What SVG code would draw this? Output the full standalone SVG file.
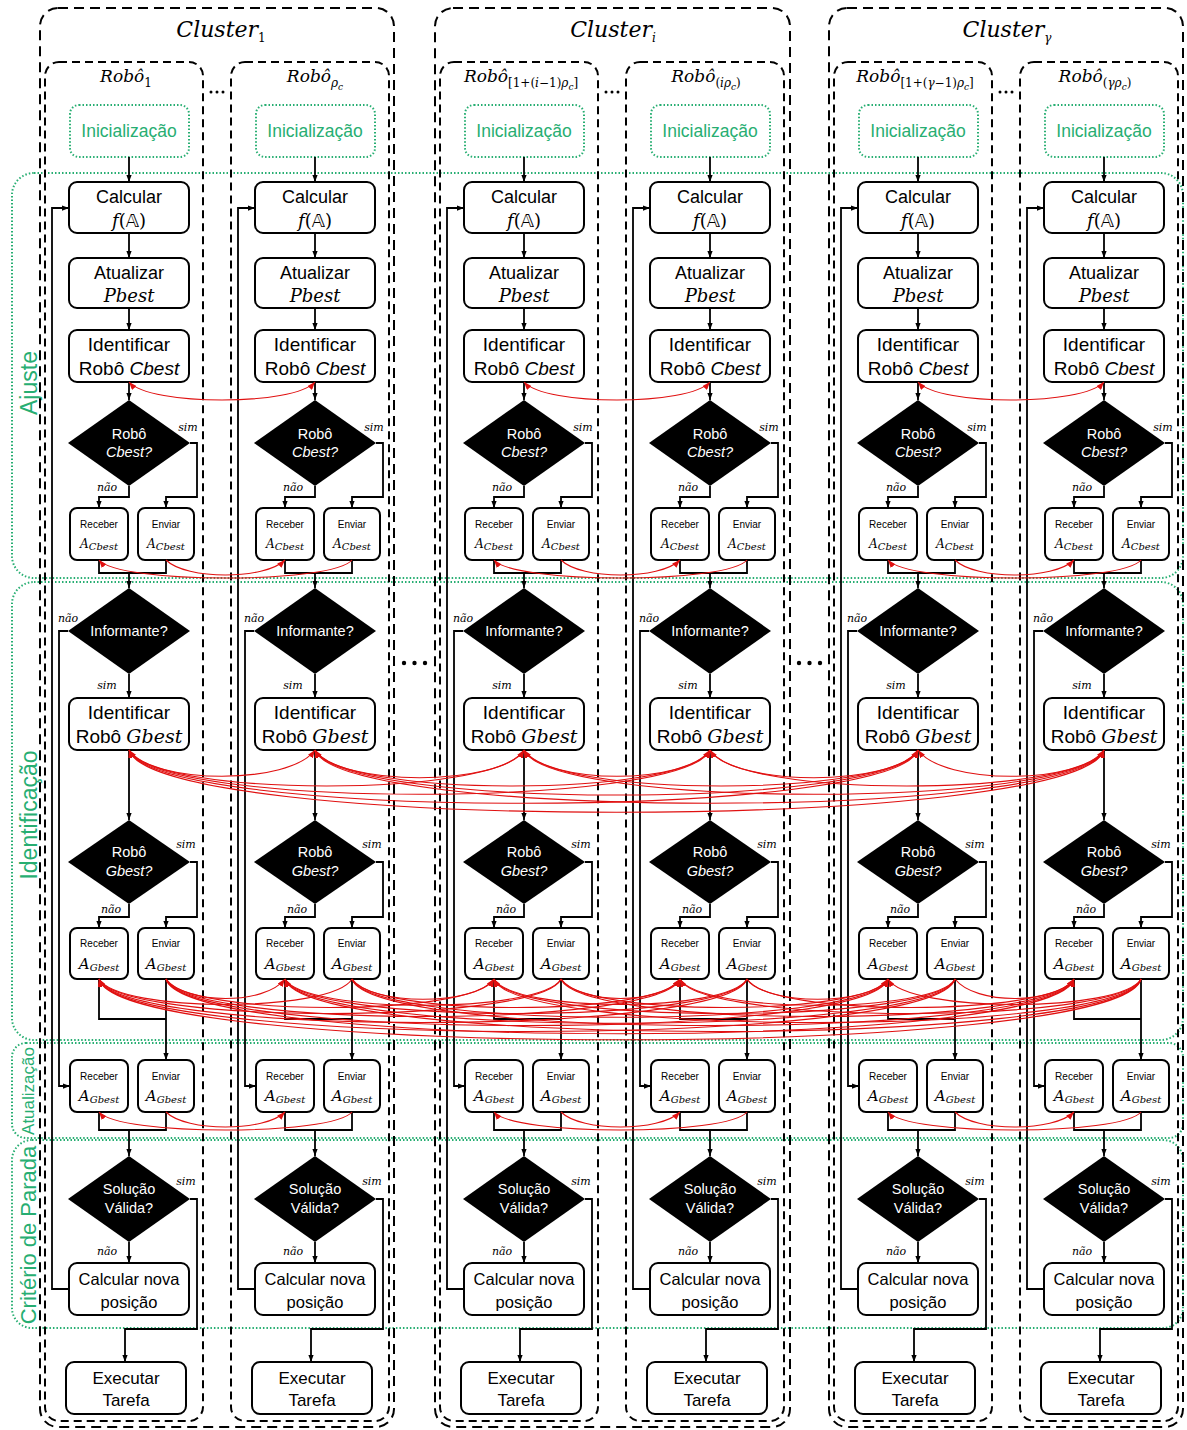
<svg xmlns="http://www.w3.org/2000/svg" width="1187" height="1430" viewBox="0 0 1187 1430">
<defs>
<style>
.box{fill:#fff;stroke:#000;stroke-width:2}
.ini{fill:#fff;stroke:#27ae72;stroke-width:2;stroke-dasharray:1.5 2}
.dia{fill:#000}
.t{font-family:"Liberation Sans",Arial,sans-serif;font-size:18px;text-anchor:middle;fill:#000}
.tg{fill:#27ae72;font-size:17.5px}
.w{fill:#fff;font-size:14.5px}
.s{font-size:10px}
.i{font-style:italic}
.m{font-family:"DejaVu Serif","Liberation Serif",serif;font-style:italic}
.up{font-style:normal}
.bb{font-family:"DejaVu Sans","DejaVu Serif",sans-serif;font-style:normal}
.sa{font-size:12px}
.ga{font-size:15px}
.sb{font-size:10px}
[id$="-cbest"] text,[id$="-gbest"] text{font-size:19px}
[id$="-nova"] text{font-size:16.5px}
[id$="-exec"] text{font-size:17px}
.cl{fill:none;stroke:#000;stroke-width:2;stroke-dasharray:10 6}
.rb{fill:none;stroke:#000;stroke-width:2;stroke-dasharray:8 5}
.band{fill:none;stroke:#27ae72;stroke-width:2;stroke-dasharray:1.5 2}
.sec{font-family:"Liberation Sans",Arial,sans-serif;fill:#27ae72;text-anchor:middle}
.ttl{font-family:"DejaVu Serif","Liberation Serif",serif;font-style:italic;font-size:22px;text-anchor:middle}
.rt{font-family:"DejaVu Serif","Liberation Serif",serif;font-style:italic;font-size:17px;text-anchor:middle}
.s1{font-size:12px;font-style:normal}
.s1i{font-size:12px;font-style:italic}
.s2{font-size:9px;font-style:italic}
.red path{fill:none;stroke:#e01010;stroke-width:1.1;marker-end:url(#ra)}
.red path.both{marker-start:url(#ra)}
</style>
<marker id="ba" viewBox="0 0 8 6" refX="8" refY="3" markerWidth="7" markerHeight="6" markerUnits="userSpaceOnUse" orient="auto"><path d="M0,0L8,3L0,6z" fill="#000" stroke="none"/></marker>
<marker id="ra" viewBox="0 0 8 6" refX="8" refY="3" markerWidth="8" markerHeight="6" markerUnits="userSpaceOnUse" orient="auto-start-reverse"><path d="M0,0L8,3L0,6z" fill="#e01010" stroke="none"/></marker>
<g id="flow" fill="none" stroke="#000" stroke-width="1.8" marker-end="url(#ba)">
<path d="M0,157V182"/><path d="M0,233V258"/><path d="M0,308V330"/><path d="M0,382V400"/>
<path d="M0,486V497H-30V508"/><path d="M61,443H68V497H37V508"/>
<path marker-end="none" d="M-30,560V573H37V560"/><path d="M0,573V588"/>
<path d="M-61,631H-70V1086H-59"/><path d="M0,674V698"/><path d="M0,750V820"/>
<path d="M0,904V917H-30V928"/><path d="M61,862H68V917H37V928"/>
<path marker-end="none" d="M-30,979V1019H37"/><path d="M37,979V1060"/>
<path marker-end="none" d="M-30,1112V1130H37V1112"/><path d="M0,1130V1156"/>
<path d="M0,1242V1263"/><path d="M61,1199H68V1329H-4V1362"/>
<path d="M-60,1289H-77V208H-60"/>
</g>
<g id="flowlbl" fill="#000" font-family="DejaVu Serif, Liberation Serif, serif" font-style="italic" font-size="11" text-anchor="middle">
<text x="59" y="431">sim</text><text x="-22" y="491">não</text>
<text x="-61" y="622">não</text><text x="-22" y="689">sim</text>
<text x="57" y="848">sim</text><text x="-18" y="913">não</text>
<text x="57" y="1185">sim</text><text x="-22" y="1255">não</text>
</g>
</defs>
<rect width="1187" height="1430" fill="#fff"/>

<g id="bands">
<rect class="band" x="12" y="173" width="1171" height="405" rx="22"/>
<rect class="band" x="12" y="582" width="1171" height="458" rx="22"/>
<rect class="band" x="12" y="1043" width="1171" height="95" rx="14"/>
<rect class="band" x="12" y="1140" width="1171" height="188" rx="20"/>
<text class="sec" font-size="23" transform="translate(37,383) rotate(-90)">Ajuste</text>
<text class="sec" font-size="23" transform="translate(37,815) rotate(-90)">Identificação</text>
<text class="sec" font-size="17" transform="translate(34,1091) rotate(-90)">Atualização</text>
<text class="sec" font-size="22" transform="translate(36,1235) rotate(-90)">Critério de Parada</text>
</g>

<g id="containers">
<g id="cluster1"><rect class="cl" x="40" y="8" width="354" height="1419" rx="18"/><text class="ttl" x="221" y="37">Cluster<tspan class="s1" dy="5">1</tspan></text></g>
<g id="clusteri"><rect class="cl" x="435" y="8" width="355" height="1419" rx="18"/><text class="ttl" x="613" y="37">Cluster<tspan class="s1i" dy="5">i</tspan></text></g>
<g id="clusterg"><rect class="cl" x="829" y="8" width="354" height="1419" rx="18"/><text class="ttl" x="1007" y="37">Cluster<tspan class="s1i" dy="5">γ</tspan></text></g>
<g id="robot1"><rect class="rb" x="45" y="62" width="158" height="1359" rx="14"/><text class="rt" x="126" y="82">Robô<tspan class="s1" dy="5">1</tspan></text></g>
<g id="robot2"><rect class="rb" x="231" y="62" width="158" height="1359" rx="14"/><text class="rt" x="315" y="82">Robô<tspan class="s1i" dy="5">ρ</tspan><tspan class="s2" dy="3">c</tspan></text></g>
<g id="robot3"><rect class="rb" x="440" y="62" width="158" height="1359" rx="14"/><text class="rt" x="521" y="82">Robô<tspan class="s1" dy="5">[1+(</tspan><tspan class="s1i">i</tspan><tspan class="s1">−1)</tspan><tspan class="s1i">ρ</tspan><tspan class="s2" dy="3">c</tspan><tspan class="s1" dy="-3">]</tspan></text></g>
<g id="robot4"><rect class="rb" x="626" y="62" width="158" height="1359" rx="14"/><text class="rt" x="706" y="82">Robô<tspan class="s1" dy="5">(</tspan><tspan class="s1i">iρ</tspan><tspan class="s2" dy="3">c</tspan><tspan class="s1" dy="-3">)</tspan></text></g>
<g id="robot5"><rect class="rb" x="834" y="62" width="158" height="1359" rx="14"/><text class="rt" x="915" y="82">Robô<tspan class="s1" dy="5">[1+(</tspan><tspan class="s1i">γ</tspan><tspan class="s1">−1)</tspan><tspan class="s1i">ρ</tspan><tspan class="s2" dy="3">c</tspan><tspan class="s1" dy="-3">]</tspan></text></g>
<g id="robot6"><rect class="rb" x="1020" y="62" width="158" height="1359" rx="14"/><text class="rt" x="1095" y="82">Robô<tspan class="s1" dy="5">(</tspan><tspan class="s1i">γρ</tspan><tspan class="s2" dy="3">c</tspan><tspan class="s1" dy="-3">)</tspan></text></g>
<g id="ellipses">
<circle cx="211" cy="92" r="1.5"/><circle cx="217" cy="92" r="1.5"/><circle cx="223" cy="92" r="1.5"/>
<circle cx="606" cy="92" r="1.5"/><circle cx="612" cy="92" r="1.5"/><circle cx="618" cy="92" r="1.5"/>
<circle cx="1000" cy="92" r="1.5"/><circle cx="1006" cy="92" r="1.5"/><circle cx="1012" cy="92" r="1.5"/>
<circle cx="404" cy="663" r="2.2"/><circle cx="414.5" cy="663" r="2.2"/><circle cx="425" cy="663" r="2.2"/>
<circle cx="799" cy="663" r="2.2"/><circle cx="809.5" cy="663" r="2.2"/><circle cx="820" cy="663" r="2.2"/>
</g>
</g>

<g id="nodes">
<g id="r1" transform="translate(129,0)">
<g id="r1-init"><rect class="ini" x="-59" y="105" width="119" height="52" rx="9"/><text class="t tg" x="0" y="137">Inicialização</text></g>
<g id="r1-calc"><rect class="box" x="-60" y="182" width="120" height="51" rx="8"/><text class="t" x="0" y="203">Calcular</text><text class="t m" x="0" y="227">f<tspan class="up">(</tspan><tspan class="bb">𝔸</tspan><tspan class="up">)</tspan></text></g>
<g id="r1-pbest"><rect class="box" x="-60" y="258" width="120" height="50" rx="8"/><text class="t" x="0" y="279">Atualizar</text><text class="t m" x="0" y="302">Pbest</text></g>
<g id="r1-cbest"><rect class="box" x="-60" y="330" width="120" height="52" rx="8"/><text class="t" x="0" y="351">Identificar</text><text class="t" x="0" y="375">Robô <tspan class="i">Cbest</tspan></text></g>
<g id="r1-dcb"><polygon class="dia" points="0,400 61,443 0,486 -61,443"/><text class="t w" x="0" y="439">Robô</text><text class="t w i" x="0" y="457">Cbest?</text></g>
<g id="r1-rcb"><rect class="box" x="-59" y="508" width="58" height="52" rx="7"/><text class="t s" x="-30" y="528">Receber</text><text class="t m sa" x="-30" y="548">A<tspan class="sb" dy="2">Cbest</tspan></text></g>
<g id="r1-ecb"><rect class="box" x="9" y="508" width="56" height="52" rx="7"/><text class="t s" x="37" y="528">Enviar</text><text class="t m sa" x="37" y="548">A<tspan class="sb" dy="2">Cbest</tspan></text></g>
<g id="r1-inf"><polygon class="dia" points="0,588 61,631 0,674 -61,631"/><text class="t w" x="0" y="636">Informante?</text></g>
<g id="r1-gbest"><rect class="box" x="-60" y="698" width="120" height="52" rx="8"/><text class="t" x="0" y="719">Identificar</text><text class="t" x="0" y="743">Robô <tspan class="m">Gbest</tspan></text></g>
<g id="r1-dgb"><polygon class="dia" points="0,820 61,862 0,904 -61,862"/><text class="t w" x="0" y="857">Robô</text><text class="t w i" x="0" y="876">Gbest?</text></g>
<g id="r1-rgb"><rect class="box" x="-59" y="928" width="58" height="51" rx="7"/><text class="t s" x="-30" y="947">Receber</text><text class="t m ga" x="-30" y="969">A<tspan class="sb" dy="2">Gbest</tspan></text></g>
<g id="r1-egb"><rect class="box" x="9" y="928" width="56" height="51" rx="7"/><text class="t s" x="37" y="947">Enviar</text><text class="t m ga" x="37" y="969">A<tspan class="sb" dy="2">Gbest</tspan></text></g>
<g id="r1-rgu"><rect class="box" x="-59" y="1060" width="58" height="52" rx="7"/><text class="t s" x="-30" y="1080">Receber</text><text class="t m ga" x="-30" y="1101">A<tspan class="sb" dy="2">Gbest</tspan></text></g>
<g id="r1-egu"><rect class="box" x="9" y="1060" width="56" height="52" rx="7"/><text class="t s" x="37" y="1080">Enviar</text><text class="t m ga" x="37" y="1101">A<tspan class="sb" dy="2">Gbest</tspan></text></g>
<g id="r1-sol"><polygon class="dia" points="0,1156 61,1199 0,1242 -61,1199"/><text class="t w" x="0" y="1194">Solução</text><text class="t w" x="0" y="1213">Válida?</text></g>
<g id="r1-nova"><rect class="box" x="-60" y="1263" width="120" height="52" rx="8"/><text class="t" x="0" y="1285">Calcular nova</text><text class="t" x="0" y="1308">posição</text></g>
<g id="r1-exec"><rect class="box" x="-63" y="1362" width="120" height="52" rx="8"/><text class="t" x="-3" y="1384">Executar</text><text class="t" x="-3" y="1406">Tarefa</text></g>
</g>
<g id="r2" transform="translate(315,0)">
<g id="r2-init"><rect class="ini" x="-59" y="105" width="119" height="52" rx="9"/><text class="t tg" x="0" y="137">Inicialização</text></g>
<g id="r2-calc"><rect class="box" x="-60" y="182" width="120" height="51" rx="8"/><text class="t" x="0" y="203">Calcular</text><text class="t m" x="0" y="227">f<tspan class="up">(</tspan><tspan class="bb">𝔸</tspan><tspan class="up">)</tspan></text></g>
<g id="r2-pbest"><rect class="box" x="-60" y="258" width="120" height="50" rx="8"/><text class="t" x="0" y="279">Atualizar</text><text class="t m" x="0" y="302">Pbest</text></g>
<g id="r2-cbest"><rect class="box" x="-60" y="330" width="120" height="52" rx="8"/><text class="t" x="0" y="351">Identificar</text><text class="t" x="0" y="375">Robô <tspan class="i">Cbest</tspan></text></g>
<g id="r2-dcb"><polygon class="dia" points="0,400 61,443 0,486 -61,443"/><text class="t w" x="0" y="439">Robô</text><text class="t w i" x="0" y="457">Cbest?</text></g>
<g id="r2-rcb"><rect class="box" x="-59" y="508" width="58" height="52" rx="7"/><text class="t s" x="-30" y="528">Receber</text><text class="t m sa" x="-30" y="548">A<tspan class="sb" dy="2">Cbest</tspan></text></g>
<g id="r2-ecb"><rect class="box" x="9" y="508" width="56" height="52" rx="7"/><text class="t s" x="37" y="528">Enviar</text><text class="t m sa" x="37" y="548">A<tspan class="sb" dy="2">Cbest</tspan></text></g>
<g id="r2-inf"><polygon class="dia" points="0,588 61,631 0,674 -61,631"/><text class="t w" x="0" y="636">Informante?</text></g>
<g id="r2-gbest"><rect class="box" x="-60" y="698" width="120" height="52" rx="8"/><text class="t" x="0" y="719">Identificar</text><text class="t" x="0" y="743">Robô <tspan class="m">Gbest</tspan></text></g>
<g id="r2-dgb"><polygon class="dia" points="0,820 61,862 0,904 -61,862"/><text class="t w" x="0" y="857">Robô</text><text class="t w i" x="0" y="876">Gbest?</text></g>
<g id="r2-rgb"><rect class="box" x="-59" y="928" width="58" height="51" rx="7"/><text class="t s" x="-30" y="947">Receber</text><text class="t m ga" x="-30" y="969">A<tspan class="sb" dy="2">Gbest</tspan></text></g>
<g id="r2-egb"><rect class="box" x="9" y="928" width="56" height="51" rx="7"/><text class="t s" x="37" y="947">Enviar</text><text class="t m ga" x="37" y="969">A<tspan class="sb" dy="2">Gbest</tspan></text></g>
<g id="r2-rgu"><rect class="box" x="-59" y="1060" width="58" height="52" rx="7"/><text class="t s" x="-30" y="1080">Receber</text><text class="t m ga" x="-30" y="1101">A<tspan class="sb" dy="2">Gbest</tspan></text></g>
<g id="r2-egu"><rect class="box" x="9" y="1060" width="56" height="52" rx="7"/><text class="t s" x="37" y="1080">Enviar</text><text class="t m ga" x="37" y="1101">A<tspan class="sb" dy="2">Gbest</tspan></text></g>
<g id="r2-sol"><polygon class="dia" points="0,1156 61,1199 0,1242 -61,1199"/><text class="t w" x="0" y="1194">Solução</text><text class="t w" x="0" y="1213">Válida?</text></g>
<g id="r2-nova"><rect class="box" x="-60" y="1263" width="120" height="52" rx="8"/><text class="t" x="0" y="1285">Calcular nova</text><text class="t" x="0" y="1308">posição</text></g>
<g id="r2-exec"><rect class="box" x="-63" y="1362" width="120" height="52" rx="8"/><text class="t" x="-3" y="1384">Executar</text><text class="t" x="-3" y="1406">Tarefa</text></g>
</g>
<g id="r3" transform="translate(524,0)">
<g id="r3-init"><rect class="ini" x="-59" y="105" width="119" height="52" rx="9"/><text class="t tg" x="0" y="137">Inicialização</text></g>
<g id="r3-calc"><rect class="box" x="-60" y="182" width="120" height="51" rx="8"/><text class="t" x="0" y="203">Calcular</text><text class="t m" x="0" y="227">f<tspan class="up">(</tspan><tspan class="bb">𝔸</tspan><tspan class="up">)</tspan></text></g>
<g id="r3-pbest"><rect class="box" x="-60" y="258" width="120" height="50" rx="8"/><text class="t" x="0" y="279">Atualizar</text><text class="t m" x="0" y="302">Pbest</text></g>
<g id="r3-cbest"><rect class="box" x="-60" y="330" width="120" height="52" rx="8"/><text class="t" x="0" y="351">Identificar</text><text class="t" x="0" y="375">Robô <tspan class="i">Cbest</tspan></text></g>
<g id="r3-dcb"><polygon class="dia" points="0,400 61,443 0,486 -61,443"/><text class="t w" x="0" y="439">Robô</text><text class="t w i" x="0" y="457">Cbest?</text></g>
<g id="r3-rcb"><rect class="box" x="-59" y="508" width="58" height="52" rx="7"/><text class="t s" x="-30" y="528">Receber</text><text class="t m sa" x="-30" y="548">A<tspan class="sb" dy="2">Cbest</tspan></text></g>
<g id="r3-ecb"><rect class="box" x="9" y="508" width="56" height="52" rx="7"/><text class="t s" x="37" y="528">Enviar</text><text class="t m sa" x="37" y="548">A<tspan class="sb" dy="2">Cbest</tspan></text></g>
<g id="r3-inf"><polygon class="dia" points="0,588 61,631 0,674 -61,631"/><text class="t w" x="0" y="636">Informante?</text></g>
<g id="r3-gbest"><rect class="box" x="-60" y="698" width="120" height="52" rx="8"/><text class="t" x="0" y="719">Identificar</text><text class="t" x="0" y="743">Robô <tspan class="m">Gbest</tspan></text></g>
<g id="r3-dgb"><polygon class="dia" points="0,820 61,862 0,904 -61,862"/><text class="t w" x="0" y="857">Robô</text><text class="t w i" x="0" y="876">Gbest?</text></g>
<g id="r3-rgb"><rect class="box" x="-59" y="928" width="58" height="51" rx="7"/><text class="t s" x="-30" y="947">Receber</text><text class="t m ga" x="-30" y="969">A<tspan class="sb" dy="2">Gbest</tspan></text></g>
<g id="r3-egb"><rect class="box" x="9" y="928" width="56" height="51" rx="7"/><text class="t s" x="37" y="947">Enviar</text><text class="t m ga" x="37" y="969">A<tspan class="sb" dy="2">Gbest</tspan></text></g>
<g id="r3-rgu"><rect class="box" x="-59" y="1060" width="58" height="52" rx="7"/><text class="t s" x="-30" y="1080">Receber</text><text class="t m ga" x="-30" y="1101">A<tspan class="sb" dy="2">Gbest</tspan></text></g>
<g id="r3-egu"><rect class="box" x="9" y="1060" width="56" height="52" rx="7"/><text class="t s" x="37" y="1080">Enviar</text><text class="t m ga" x="37" y="1101">A<tspan class="sb" dy="2">Gbest</tspan></text></g>
<g id="r3-sol"><polygon class="dia" points="0,1156 61,1199 0,1242 -61,1199"/><text class="t w" x="0" y="1194">Solução</text><text class="t w" x="0" y="1213">Válida?</text></g>
<g id="r3-nova"><rect class="box" x="-60" y="1263" width="120" height="52" rx="8"/><text class="t" x="0" y="1285">Calcular nova</text><text class="t" x="0" y="1308">posição</text></g>
<g id="r3-exec"><rect class="box" x="-63" y="1362" width="120" height="52" rx="8"/><text class="t" x="-3" y="1384">Executar</text><text class="t" x="-3" y="1406">Tarefa</text></g>
</g>
<g id="r4" transform="translate(710,0)">
<g id="r4-init"><rect class="ini" x="-59" y="105" width="119" height="52" rx="9"/><text class="t tg" x="0" y="137">Inicialização</text></g>
<g id="r4-calc"><rect class="box" x="-60" y="182" width="120" height="51" rx="8"/><text class="t" x="0" y="203">Calcular</text><text class="t m" x="0" y="227">f<tspan class="up">(</tspan><tspan class="bb">𝔸</tspan><tspan class="up">)</tspan></text></g>
<g id="r4-pbest"><rect class="box" x="-60" y="258" width="120" height="50" rx="8"/><text class="t" x="0" y="279">Atualizar</text><text class="t m" x="0" y="302">Pbest</text></g>
<g id="r4-cbest"><rect class="box" x="-60" y="330" width="120" height="52" rx="8"/><text class="t" x="0" y="351">Identificar</text><text class="t" x="0" y="375">Robô <tspan class="i">Cbest</tspan></text></g>
<g id="r4-dcb"><polygon class="dia" points="0,400 61,443 0,486 -61,443"/><text class="t w" x="0" y="439">Robô</text><text class="t w i" x="0" y="457">Cbest?</text></g>
<g id="r4-rcb"><rect class="box" x="-59" y="508" width="58" height="52" rx="7"/><text class="t s" x="-30" y="528">Receber</text><text class="t m sa" x="-30" y="548">A<tspan class="sb" dy="2">Cbest</tspan></text></g>
<g id="r4-ecb"><rect class="box" x="9" y="508" width="56" height="52" rx="7"/><text class="t s" x="37" y="528">Enviar</text><text class="t m sa" x="37" y="548">A<tspan class="sb" dy="2">Cbest</tspan></text></g>
<g id="r4-inf"><polygon class="dia" points="0,588 61,631 0,674 -61,631"/><text class="t w" x="0" y="636">Informante?</text></g>
<g id="r4-gbest"><rect class="box" x="-60" y="698" width="120" height="52" rx="8"/><text class="t" x="0" y="719">Identificar</text><text class="t" x="0" y="743">Robô <tspan class="m">Gbest</tspan></text></g>
<g id="r4-dgb"><polygon class="dia" points="0,820 61,862 0,904 -61,862"/><text class="t w" x="0" y="857">Robô</text><text class="t w i" x="0" y="876">Gbest?</text></g>
<g id="r4-rgb"><rect class="box" x="-59" y="928" width="58" height="51" rx="7"/><text class="t s" x="-30" y="947">Receber</text><text class="t m ga" x="-30" y="969">A<tspan class="sb" dy="2">Gbest</tspan></text></g>
<g id="r4-egb"><rect class="box" x="9" y="928" width="56" height="51" rx="7"/><text class="t s" x="37" y="947">Enviar</text><text class="t m ga" x="37" y="969">A<tspan class="sb" dy="2">Gbest</tspan></text></g>
<g id="r4-rgu"><rect class="box" x="-59" y="1060" width="58" height="52" rx="7"/><text class="t s" x="-30" y="1080">Receber</text><text class="t m ga" x="-30" y="1101">A<tspan class="sb" dy="2">Gbest</tspan></text></g>
<g id="r4-egu"><rect class="box" x="9" y="1060" width="56" height="52" rx="7"/><text class="t s" x="37" y="1080">Enviar</text><text class="t m ga" x="37" y="1101">A<tspan class="sb" dy="2">Gbest</tspan></text></g>
<g id="r4-sol"><polygon class="dia" points="0,1156 61,1199 0,1242 -61,1199"/><text class="t w" x="0" y="1194">Solução</text><text class="t w" x="0" y="1213">Válida?</text></g>
<g id="r4-nova"><rect class="box" x="-60" y="1263" width="120" height="52" rx="8"/><text class="t" x="0" y="1285">Calcular nova</text><text class="t" x="0" y="1308">posição</text></g>
<g id="r4-exec"><rect class="box" x="-63" y="1362" width="120" height="52" rx="8"/><text class="t" x="-3" y="1384">Executar</text><text class="t" x="-3" y="1406">Tarefa</text></g>
</g>
<g id="r5" transform="translate(918,0)">
<g id="r5-init"><rect class="ini" x="-59" y="105" width="119" height="52" rx="9"/><text class="t tg" x="0" y="137">Inicialização</text></g>
<g id="r5-calc"><rect class="box" x="-60" y="182" width="120" height="51" rx="8"/><text class="t" x="0" y="203">Calcular</text><text class="t m" x="0" y="227">f<tspan class="up">(</tspan><tspan class="bb">𝔸</tspan><tspan class="up">)</tspan></text></g>
<g id="r5-pbest"><rect class="box" x="-60" y="258" width="120" height="50" rx="8"/><text class="t" x="0" y="279">Atualizar</text><text class="t m" x="0" y="302">Pbest</text></g>
<g id="r5-cbest"><rect class="box" x="-60" y="330" width="120" height="52" rx="8"/><text class="t" x="0" y="351">Identificar</text><text class="t" x="0" y="375">Robô <tspan class="i">Cbest</tspan></text></g>
<g id="r5-dcb"><polygon class="dia" points="0,400 61,443 0,486 -61,443"/><text class="t w" x="0" y="439">Robô</text><text class="t w i" x="0" y="457">Cbest?</text></g>
<g id="r5-rcb"><rect class="box" x="-59" y="508" width="58" height="52" rx="7"/><text class="t s" x="-30" y="528">Receber</text><text class="t m sa" x="-30" y="548">A<tspan class="sb" dy="2">Cbest</tspan></text></g>
<g id="r5-ecb"><rect class="box" x="9" y="508" width="56" height="52" rx="7"/><text class="t s" x="37" y="528">Enviar</text><text class="t m sa" x="37" y="548">A<tspan class="sb" dy="2">Cbest</tspan></text></g>
<g id="r5-inf"><polygon class="dia" points="0,588 61,631 0,674 -61,631"/><text class="t w" x="0" y="636">Informante?</text></g>
<g id="r5-gbest"><rect class="box" x="-60" y="698" width="120" height="52" rx="8"/><text class="t" x="0" y="719">Identificar</text><text class="t" x="0" y="743">Robô <tspan class="m">Gbest</tspan></text></g>
<g id="r5-dgb"><polygon class="dia" points="0,820 61,862 0,904 -61,862"/><text class="t w" x="0" y="857">Robô</text><text class="t w i" x="0" y="876">Gbest?</text></g>
<g id="r5-rgb"><rect class="box" x="-59" y="928" width="58" height="51" rx="7"/><text class="t s" x="-30" y="947">Receber</text><text class="t m ga" x="-30" y="969">A<tspan class="sb" dy="2">Gbest</tspan></text></g>
<g id="r5-egb"><rect class="box" x="9" y="928" width="56" height="51" rx="7"/><text class="t s" x="37" y="947">Enviar</text><text class="t m ga" x="37" y="969">A<tspan class="sb" dy="2">Gbest</tspan></text></g>
<g id="r5-rgu"><rect class="box" x="-59" y="1060" width="58" height="52" rx="7"/><text class="t s" x="-30" y="1080">Receber</text><text class="t m ga" x="-30" y="1101">A<tspan class="sb" dy="2">Gbest</tspan></text></g>
<g id="r5-egu"><rect class="box" x="9" y="1060" width="56" height="52" rx="7"/><text class="t s" x="37" y="1080">Enviar</text><text class="t m ga" x="37" y="1101">A<tspan class="sb" dy="2">Gbest</tspan></text></g>
<g id="r5-sol"><polygon class="dia" points="0,1156 61,1199 0,1242 -61,1199"/><text class="t w" x="0" y="1194">Solução</text><text class="t w" x="0" y="1213">Válida?</text></g>
<g id="r5-nova"><rect class="box" x="-60" y="1263" width="120" height="52" rx="8"/><text class="t" x="0" y="1285">Calcular nova</text><text class="t" x="0" y="1308">posição</text></g>
<g id="r5-exec"><rect class="box" x="-63" y="1362" width="120" height="52" rx="8"/><text class="t" x="-3" y="1384">Executar</text><text class="t" x="-3" y="1406">Tarefa</text></g>
</g>
<g id="r6" transform="translate(1104,0)">
<g id="r6-init"><rect class="ini" x="-59" y="105" width="119" height="52" rx="9"/><text class="t tg" x="0" y="137">Inicialização</text></g>
<g id="r6-calc"><rect class="box" x="-60" y="182" width="120" height="51" rx="8"/><text class="t" x="0" y="203">Calcular</text><text class="t m" x="0" y="227">f<tspan class="up">(</tspan><tspan class="bb">𝔸</tspan><tspan class="up">)</tspan></text></g>
<g id="r6-pbest"><rect class="box" x="-60" y="258" width="120" height="50" rx="8"/><text class="t" x="0" y="279">Atualizar</text><text class="t m" x="0" y="302">Pbest</text></g>
<g id="r6-cbest"><rect class="box" x="-60" y="330" width="120" height="52" rx="8"/><text class="t" x="0" y="351">Identificar</text><text class="t" x="0" y="375">Robô <tspan class="i">Cbest</tspan></text></g>
<g id="r6-dcb"><polygon class="dia" points="0,400 61,443 0,486 -61,443"/><text class="t w" x="0" y="439">Robô</text><text class="t w i" x="0" y="457">Cbest?</text></g>
<g id="r6-rcb"><rect class="box" x="-59" y="508" width="58" height="52" rx="7"/><text class="t s" x="-30" y="528">Receber</text><text class="t m sa" x="-30" y="548">A<tspan class="sb" dy="2">Cbest</tspan></text></g>
<g id="r6-ecb"><rect class="box" x="9" y="508" width="56" height="52" rx="7"/><text class="t s" x="37" y="528">Enviar</text><text class="t m sa" x="37" y="548">A<tspan class="sb" dy="2">Cbest</tspan></text></g>
<g id="r6-inf"><polygon class="dia" points="0,588 61,631 0,674 -61,631"/><text class="t w" x="0" y="636">Informante?</text></g>
<g id="r6-gbest"><rect class="box" x="-60" y="698" width="120" height="52" rx="8"/><text class="t" x="0" y="719">Identificar</text><text class="t" x="0" y="743">Robô <tspan class="m">Gbest</tspan></text></g>
<g id="r6-dgb"><polygon class="dia" points="0,820 61,862 0,904 -61,862"/><text class="t w" x="0" y="857">Robô</text><text class="t w i" x="0" y="876">Gbest?</text></g>
<g id="r6-rgb"><rect class="box" x="-59" y="928" width="58" height="51" rx="7"/><text class="t s" x="-30" y="947">Receber</text><text class="t m ga" x="-30" y="969">A<tspan class="sb" dy="2">Gbest</tspan></text></g>
<g id="r6-egb"><rect class="box" x="9" y="928" width="56" height="51" rx="7"/><text class="t s" x="37" y="947">Enviar</text><text class="t m ga" x="37" y="969">A<tspan class="sb" dy="2">Gbest</tspan></text></g>
<g id="r6-rgu"><rect class="box" x="-59" y="1060" width="58" height="52" rx="7"/><text class="t s" x="-30" y="1080">Receber</text><text class="t m ga" x="-30" y="1101">A<tspan class="sb" dy="2">Gbest</tspan></text></g>
<g id="r6-egu"><rect class="box" x="9" y="1060" width="56" height="52" rx="7"/><text class="t s" x="37" y="1080">Enviar</text><text class="t m ga" x="37" y="1101">A<tspan class="sb" dy="2">Gbest</tspan></text></g>
<g id="r6-sol"><polygon class="dia" points="0,1156 61,1199 0,1242 -61,1199"/><text class="t w" x="0" y="1194">Solução</text><text class="t w" x="0" y="1213">Válida?</text></g>
<g id="r6-nova"><rect class="box" x="-60" y="1263" width="120" height="52" rx="8"/><text class="t" x="0" y="1285">Calcular nova</text><text class="t" x="0" y="1308">posição</text></g>
<g id="r6-exec"><rect class="box" x="-63" y="1362" width="120" height="52" rx="8"/><text class="t" x="-3" y="1384">Executar</text><text class="t" x="-3" y="1406">Tarefa</text></g>
</g>
</g>

<g id="connectors">
<g id="flow-lines">
<g id="c-r1" transform="translate(129,0)"><use href="#flow"/><use href="#flowlbl"/></g>
<g id="c-r2" transform="translate(315,0)"><use href="#flow"/><use href="#flowlbl"/></g>
<g id="c-r3" transform="translate(524,0)"><use href="#flow"/><use href="#flowlbl"/></g>
<g id="c-r4" transform="translate(710,0)"><use href="#flow"/><use href="#flowlbl"/></g>
<g id="c-r5" transform="translate(918,0)"><use href="#flow"/><use href="#flowlbl"/></g>
<g id="c-r6" transform="translate(1104,0)"><use href="#flow"/><use href="#flowlbl"/></g>
</g>
<g id="red-links" class="red">
<path class="both" d="M129,382C150,406 294,406 315,382"/>
<path class="both" d="M524,382C545,406 689,406 710,382"/>
<path class="both" d="M918,382C939,406 1083,406 1104,382"/>
<path d="M166,560C186,580 265,580 285,560"/>
<path d="M352,560C332,584 119,584 99,560"/>
<path d="M561,560C581,580 660,580 680,560"/>
<path d="M747,560C727,584 514,584 494,560"/>
<path d="M955,560C975,580 1054,580 1074,560"/>
<path d="M1141,560C1121,584 908,584 888,560"/>
<path class="both" d="M129,750C154,785 290,785 315,750"/>
<path class="both" d="M129,750C154,798 499,798 524,750"/>
<path class="both" d="M129,750C154,809 685,809 710,750"/>
<path class="both" d="M129,750C154,821 893,821 918,750"/>
<path class="both" d="M129,750C154,833 1079,833 1104,750"/>
<path class="both" d="M315,750C340,787 499,787 524,750"/>
<path class="both" d="M315,750C340,798 685,798 710,750"/>
<path class="both" d="M315,750C340,810 893,810 918,750"/>
<path class="both" d="M315,750C340,821 1079,821 1104,750"/>
<path class="both" d="M524,750C549,785 685,785 710,750"/>
<path class="both" d="M524,750C549,798 893,798 918,750"/>
<path class="both" d="M524,750C549,809 1079,809 1104,750"/>
<path class="both" d="M710,750C735,787 893,787 918,750"/>
<path class="both" d="M710,750C735,798 1079,798 1104,750"/>
<path class="both" d="M918,750C943,785 1079,785 1104,750"/>
<path d="M166,979C186,1005 265,1005 285,979"/>
<path d="M166,979C186,1017 474,1017 494,979"/>
<path d="M166,979C186,1029 660,1029 680,979"/>
<path d="M166,979C186,1041 868,1041 888,979"/>
<path d="M166,979C186,1052 1054,1052 1074,979"/>
<path d="M352,979C332,1013 119,1013 99,979"/>
<path d="M352,979C372,1006 474,1006 494,979"/>
<path d="M352,979C372,1017 660,1017 680,979"/>
<path d="M352,979C372,1030 868,1030 888,979"/>
<path d="M352,979C372,1041 1054,1041 1074,979"/>
<path d="M561,979C541,1025 119,1025 99,979"/>
<path d="M561,979C541,1014 305,1014 285,979"/>
<path d="M561,979C581,1005 660,1005 680,979"/>
<path d="M561,979C581,1017 868,1017 888,979"/>
<path d="M561,979C581,1029 1054,1029 1074,979"/>
<path d="M747,979C727,1037 119,1037 99,979"/>
<path d="M747,979C727,1025 305,1025 285,979"/>
<path d="M747,979C727,1013 514,1013 494,979"/>
<path d="M747,979C767,1006 868,1006 888,979"/>
<path d="M747,979C767,1017 1054,1017 1074,979"/>
<path d="M955,979C935,1049 119,1049 99,979"/>
<path d="M955,979C935,1038 305,1038 285,979"/>
<path d="M955,979C935,1025 514,1025 494,979"/>
<path d="M955,979C935,1014 700,1014 680,979"/>
<path d="M955,979C975,1005 1054,1005 1074,979"/>
<path d="M1141,979C1121,1060 119,1060 99,979"/>
<path d="M1141,979C1121,1049 305,1049 285,979"/>
<path d="M1141,979C1121,1037 514,1037 494,979"/>
<path d="M1141,979C1121,1025 700,1025 680,979"/>
<path d="M1141,979C1121,1013 908,1013 888,979"/>
<path d="M166,1112C186,1132 265,1132 285,1112"/>
<path d="M352,1112C332,1136 119,1136 99,1112"/>
<path d="M561,1112C581,1132 660,1132 680,1112"/>
<path d="M747,1112C727,1136 514,1136 494,1112"/>
<path d="M955,1112C975,1132 1054,1132 1074,1112"/>
<path d="M1141,1112C1121,1136 908,1136 888,1112"/>
</g>
</g>
</svg>
